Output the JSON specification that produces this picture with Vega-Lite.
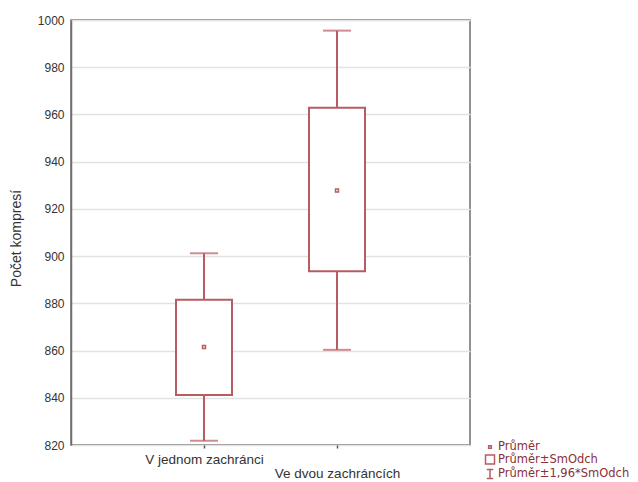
{
  "$schema": "https://vega.github.io/schema/vega-lite/v6.json",
  "autosize": {"type": "none"},
  "padding": {"left": 71, "top": 20, "right": 168, "bottom": 37},
  "width": 399,
  "height": 425,
  "background": "white",
  "config": {
    "font": "Liberation Sans",
    "view": {"stroke": "#6e6e6e", "strokeWidth": 1.5},
    "axis": {"labelFont": "Liberation Sans", "titleFont": "Liberation Sans", "labelColor": "#333333", "titleColor": "#333333", "titleFontWeight": "normal"}
  },
  "data": {
    "values": [
      {"group": "V jednom zachránci", "mean": 861.5, "lo_sd": 841.2, "hi_sd": 881.5, "lo_ci": 821.8, "hi_ci": 901.2},
      {"group": "Ve dvou zachráncích", "mean": 927.8, "lo_sd": 893.6, "hi_sd": 962.8, "lo_ci": 860.3, "hi_ci": 995.5}
    ]
  },
  "encoding": {
    "x": {
      "field": "group", "type": "nominal", "sort": null,
      "scale": {"type": "point", "padding": 1},
      "axis": {
        "title": null, "labelAngle": 0, "grid": false, "domain": false,
        "ticks": true, "tickSize": 3, "tickColor": "#555555", "tickWidth": 1.5,
        "labelFontSize": 13.5, "labelPadding": 4, "labelBaseline": "top", "labelLineHeight": 14.5,
        "labelExpr": "datum.value == 'Ve dvou zachráncích' ? ['', datum.value] : datum.value"
      }
    }
  },
  "layer": [
    {
      "mark": {"type": "rule", "color": "#b85c62", "strokeWidth": 2},
      "encoding": {
        "y": {"field": "lo_ci", "type": "quantitative",
          "scale": {"domain": [820, 1000], "nice": false, "zero": false},
          "axis": {"title": "Počet kompresí", "values": [820, 840, 860, 880, 900, 920, 940, 960, 980, 1000], "format": "d",
            "labelFontSize": 12, "titleFontSize": 14,
            "grid": true, "gridColor": "#e2e2e2", "gridWidth": 1.5, "ticks": false, "labelPadding": 7,
            "domainColor": "#6e6e6e", "domainWidth": 1.5,
            "titleX": -55, "titleY": 218, "titleAngle": -90, "titleAlign": "center", "titleBaseline": "middle"}},
        "y2": {"field": "hi_ci"}
      }
    },
    {
      "mark": {"type": "tick", "color": "#b85c62", "thickness": 2, "size": 28, "orient": "horizontal"},
      "encoding": {"y": {"field": "lo_ci", "type": "quantitative"}}
    },
    {
      "mark": {"type": "tick", "color": "#b85c62", "thickness": 2, "size": 28, "orient": "horizontal"},
      "encoding": {"y": {"field": "hi_ci", "type": "quantitative"}}
    },
    {
      "mark": {"type": "bar", "fill": "white", "stroke": "#b85c62", "strokeWidth": 2, "width": 56},
      "encoding": {
        "y": {"field": "lo_sd", "type": "quantitative"},
        "y2": {"field": "hi_sd"}
      }
    },
    {
      "mark": {"type": "point", "filled": false, "color": "#b85c62", "strokeWidth": 1.5, "size": 121, "opacity": 1},
      "encoding": {
        "y": {"field": "mean", "type": "quantitative"},
        "shape": {
          "datum": "Průměr",
          "scale": {
            "domain": ["Průměr", "Průměr±SmOdch", "Průměr±1,96*SmOdch"],
            "range": ["M-0.27,-0.27H0.27V0.27H-0.27Z", "M-0.9,-0.9H0.9V0.9H-0.9Z", "M-0.65,-0.9H0.65M0,-0.9V0.9M-0.65,0.9H0.65"]
          },
          "legend": {
            "title": null, "orient": "none", "legendX": 413, "legendY": 421,
            "labelFont": "DejaVu Sans", "labelFontSize": 11.5, "labelColor": "#8a3036",
            "symbolSize": 100, "symbolStrokeColor": "#b85c62", "symbolStrokeWidth": 1.5,
            "symbolFillColor": "transparent", "rowPadding": -1.5, "labelOffset": 2, "symbolOffset": 0
          }
        }
      }
    }
  ]
}
